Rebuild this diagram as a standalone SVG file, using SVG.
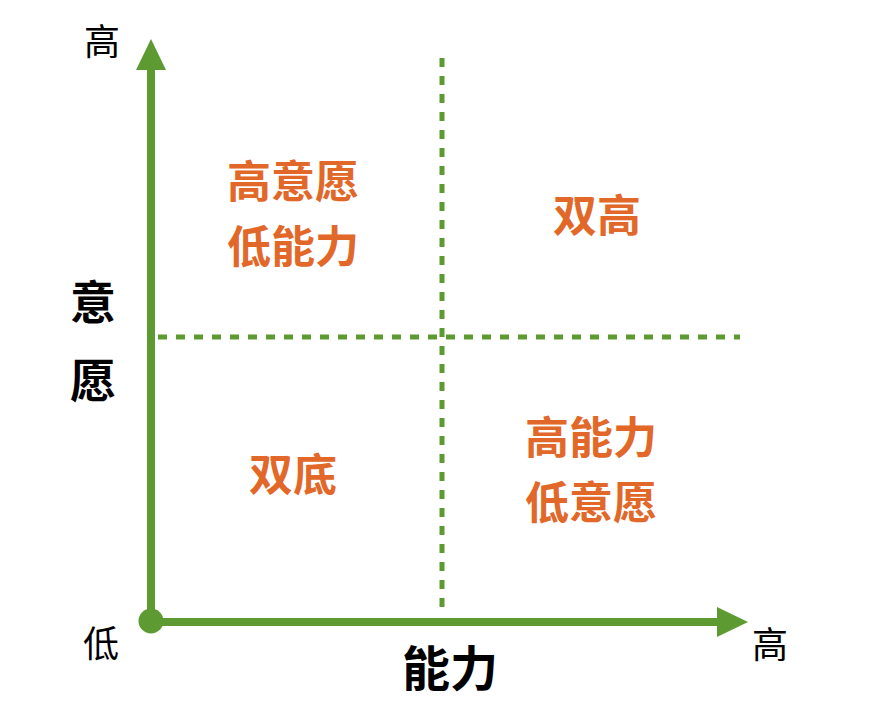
<svg xmlns="http://www.w3.org/2000/svg" width="896" height="711" viewBox="0 0 896 711">
<style>
text{font-family:"Noto Sans CJK SC","Noto Sans",sans-serif;text-anchor:middle;dominant-baseline:central}
.q{fill:#E2682A;font-size:44px;font-weight:700}
.ax{fill:#000;font-weight:700}
.tick{fill:#000;font-size:36px;font-weight:400}
.dash{stroke:#5E9A32;stroke-width:5;stroke-dasharray:9 9;fill:none}
.axis{stroke:#5E9A32;stroke-width:8;fill:none}
</style>
<rect width="896" height="711" fill="#fff"/>
<g id="connectors">
<line class="dash" x1="442" y1="58" x2="442" y2="615"/>
<line class="dash" x1="158" y1="337" x2="740" y2="337"/>
<line class="axis" x1="151" y1="621" x2="151" y2="68"/>
<polygon points="136,70 166,70 151,39" fill="#5E9A32"/>
<line class="axis" x1="151" y1="622" x2="719" y2="622"/>
<polygon points="717,607 717,637 748,622" fill="#5E9A32"/>
<circle cx="151" cy="621" r="12.5" fill="#5E9A32"/>
</g>
<g id="axis-labels">
<text class="tick" x="102" y="39">高</text>
<text class="tick" x="101" y="641">低</text>
<text class="tick" x="770" y="642">高</text>
<text class="ax" x="450" y="665" font-size="48">能力</text>
<text class="ax" x="93" y="299" font-size="46">意</text>
<text class="ax" x="93" y="377" font-size="46">愿</text>
</g>
<g id="q-top-left">
<text class="q" x="293" y="179">高意愿</text>
<text class="q" x="293" y="244">低能力</text>
</g>
<g id="q-top-right">
<text class="q" x="597" y="213">双高</text>
</g>
<g id="q-bottom-left">
<text class="q" x="293" y="472">双底</text>
</g>
<g id="q-bottom-right">
<text class="q" x="591" y="435">高能力</text>
<text class="q" x="591" y="500">低意愿</text>
</g>
</svg>
